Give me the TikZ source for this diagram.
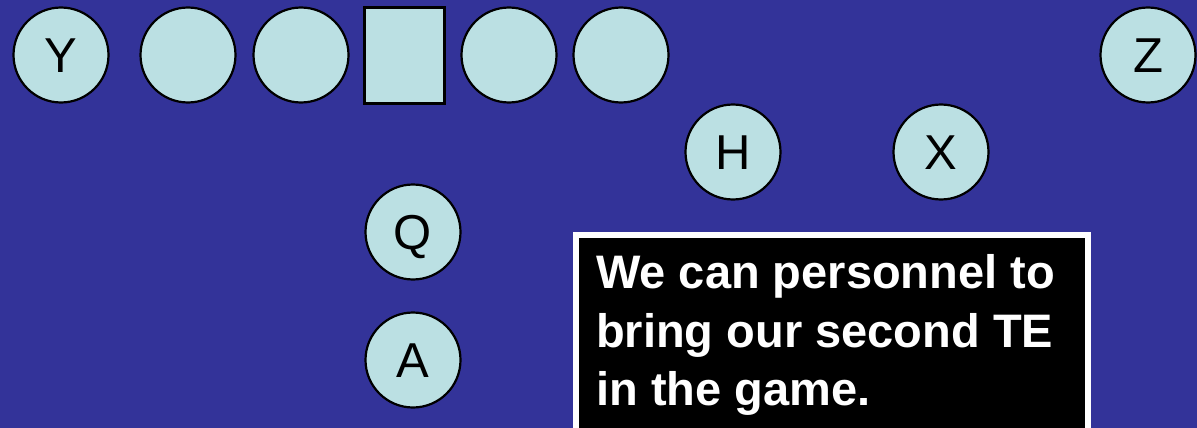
\documentclass[tikz,border=0pt]{standalone}
\usepackage{fontspec}
\setmainfont{Liberation Sans}
\definecolor{bgblue}{RGB}{51,51,153}
\definecolor{player}{RGB}{187,224,227}
\tikzset{
  plyr/.style={circle, draw=black, line width=2.2pt, fill=player, minimum size=95pt,
    inner sep=0pt, font=\fontsize{49}{49}\selectfont, text height=35pt, text depth=0pt},
  ctr/.style={rectangle, draw=black, line width=2.5pt, fill=player, minimum width=80pt,
    minimum height=96pt, inner sep=0pt},
  msgbox/.style={rectangle, draw=white, fill=black, line width=6pt, inner sep=0pt},
  msgtext/.style={text=white, font=\bfseries\fontsize{47}{58.5}\selectfont, align=left, inner sep=0pt}
}
\begin{document}
\begin{tikzpicture}[x=1pt,y=-1pt]
\useasboundingbox (0,0) rectangle (1197,428);
\clip (0,0) rectangle (1197,428);
\fill[bgblue] (0,0) rectangle (1197,428);
% line
\node[plyr] (y) at (61,55) {Y};
\node[plyr] (l1) at (188,55) {};
\node[plyr] (l2) at (301,55) {};
\node[ctr] (c) at (404.5,55.5) {};
\node[plyr] (r1) at (509,55) {};
\node[plyr] (r2) at (621,55) {};
\node[plyr] (z) at (1148,55) {Z};
% backfield
\node[plyr] (h) at (733,152) {H};
\node[plyr] (x) at (941,152) {X};
\node[plyr] (q) at (413,232) {Q};
\node[plyr] (a) at (413,360) {A};
% message box
\node[msgbox, minimum width=512pt, minimum height=220pt, anchor=north west] (box) at (573,232) {};
\node[msgtext, anchor=north west] (msg) at (596,254.3) {We can personnel to\\bring our second TE\\in the game.};
\end{tikzpicture}
\end{document}
